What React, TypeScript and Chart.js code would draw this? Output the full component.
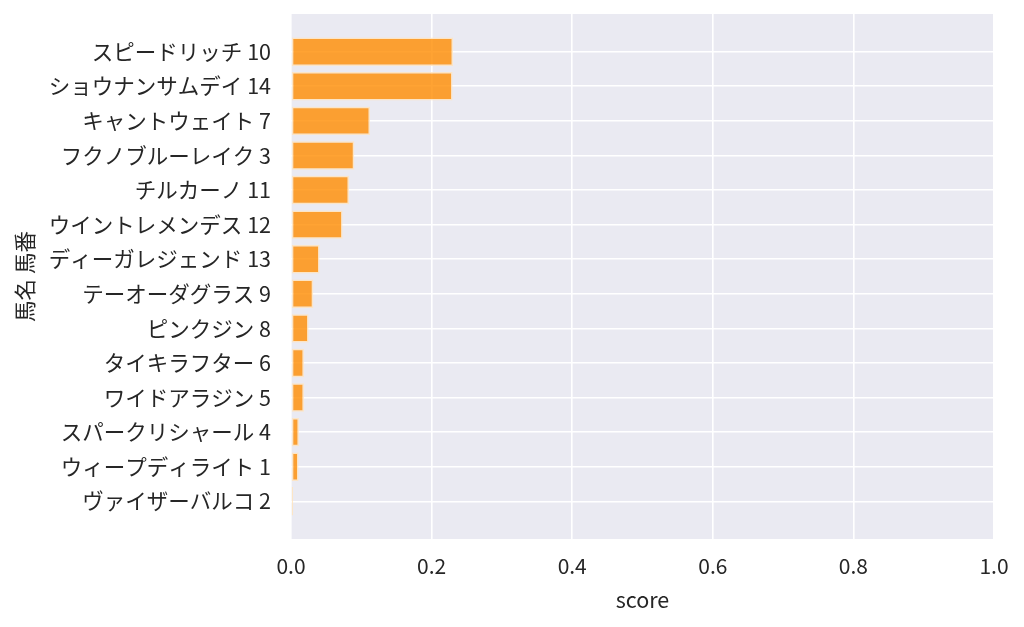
import React, { useEffect, useRef } from "react";
import { Chart, registerables } from "chart.js";

Chart.register(...registerables);

const horseLabels: string[] = [
  "スピードリッチ 10",
  "ショウナンサムデイ 14",
  "キャントウェイト 7",
  "フクノブルーレイク 3",
  "チルカーノ 11",
  "ウイントレメンデス 12",
  "ディーガレジェンド 13",
  "テーオーダグラス 9",
  "ピンクジン 8",
  "タイキラフター 6",
  "ワイドアラジン 5",
  "スパークリシャール 4",
  "ウィープディライト 1",
  "ヴァイザーバルコ 2",
];

const scores: number[] = [
  0.2305, 0.2298, 0.1124, 0.090, 0.0825, 0.0734, 0.0406, 0.0316, 0.025, 0.0184,
  0.0184, 0.0113, 0.0107, 0.003,
];

const xTicks: number[] = [0, 0.2, 0.4, 0.6, 0.8, 1.0];

const FONT = "'Noto Sans CJK JP', 'Noto Sans', sans-serif";

const bgPlugin = {
  id: "plotBg",
  beforeDraw(chart: any) {
    const { ctx, chartArea } = chart;
    if (!chartArea) return;
    ctx.save();
    ctx.fillStyle = "#eaeaf2";
    ctx.fillRect(
      chartArea.left,
      chartArea.top,
      chartArea.right - chartArea.left,
      chartArea.bottom - chartArea.top
    );
    ctx.restore();
  },
};

export default function App() {
  const ref = useRef<HTMLCanvasElement | null>(null);

  useEffect(() => {
    document.body.style.margin = "0";
    if (!ref.current) return;
    const data = scores.map((v, i) => ({ x: v, y: i }));
    const chart = new Chart(ref.current, {
      type: "bar",
      data: {
        datasets: [
          {
            data: data as any,
            backgroundColor: "rgba(255,140,0,0.8)",
            borderColor: "rgba(255,228,190,0.85)",
            borderWidth: 1.5,
            borderSkipped: false,
            categoryPercentage: 0.82,
            barPercentage: 1.0,
          },
        ],
      },
      plugins: [bgPlugin],
      options: {
        indexAxis: "y",
        animation: false,
        responsive: false,
        maintainAspectRatio: false,
        layout: { padding: { top: 14, right: 30, bottom: 0, left: 0 } },
        plugins: {
          legend: { display: false },
          tooltip: { enabled: false },
        },
        scales: {
          x: {
            type: "linear",
            min: 0,
            max: 1,
            afterBuildTicks: (scale: any) => {
              scale.ticks = xTicks.map((v) => ({ value: v }));
            },
            afterFit: (scale: any) => {
              scale.height = 88;
              scale.paddingLeft = 0;
              scale.paddingRight = 0;
            },
            ticks: {
              padding: 14,
              color: "#262626",
              font: { family: FONT, size: 21 },
              callback: (v: any) => Number(v).toFixed(1),
            },
            grid: {
              color: "#ffffff",
              lineWidth: 1.6,
              drawTicks: false,
            },
            border: { display: false },
            title: {
              display: true,
              text: "score",
              color: "#262626",
              font: { family: FONT, size: 21.5 },
              padding: { top: 0, bottom: 14 },
            },
          },
          y: {
            type: "linear",
            reverse: true,
            offset: false,
            min: -1.09,
            max: horseLabels.length - 1 + 1.09,
            afterBuildTicks: (scale: any) => {
              scale.ticks = horseLabels.map((_, i) => ({ value: i }));
            },
            afterFit: (scale: any) => {
              scale.width = 291;
              scale.paddingTop = 0;
              scale.paddingBottom = 0;
            },
            ticks: {
              padding: 20,
              color: "#262626",
              font: { family: FONT, size: 21.5 },
              callback: (v: any) => horseLabels[Number(v)] ?? "",
            },
            grid: {
              color: "#ffffff",
              lineWidth: 1.6,
              drawTicks: false,
              offset: false,
            },
            border: { display: false },
            title: {
              display: true,
              text: "馬名 馬番",
              color: "#262626",
              font: { family: FONT, size: 21.5 },
              padding: { top: 12, bottom: 0 },
            },
          },
        },
      } as any,
    });
    return () => chart.destroy();
  }, []);

  return (
    <div style={{ width: 1024, height: 627 }}>
      <canvas ref={ref} width={1024} height={627} style={{ display: "block" }} />
    </div>
  );
}
